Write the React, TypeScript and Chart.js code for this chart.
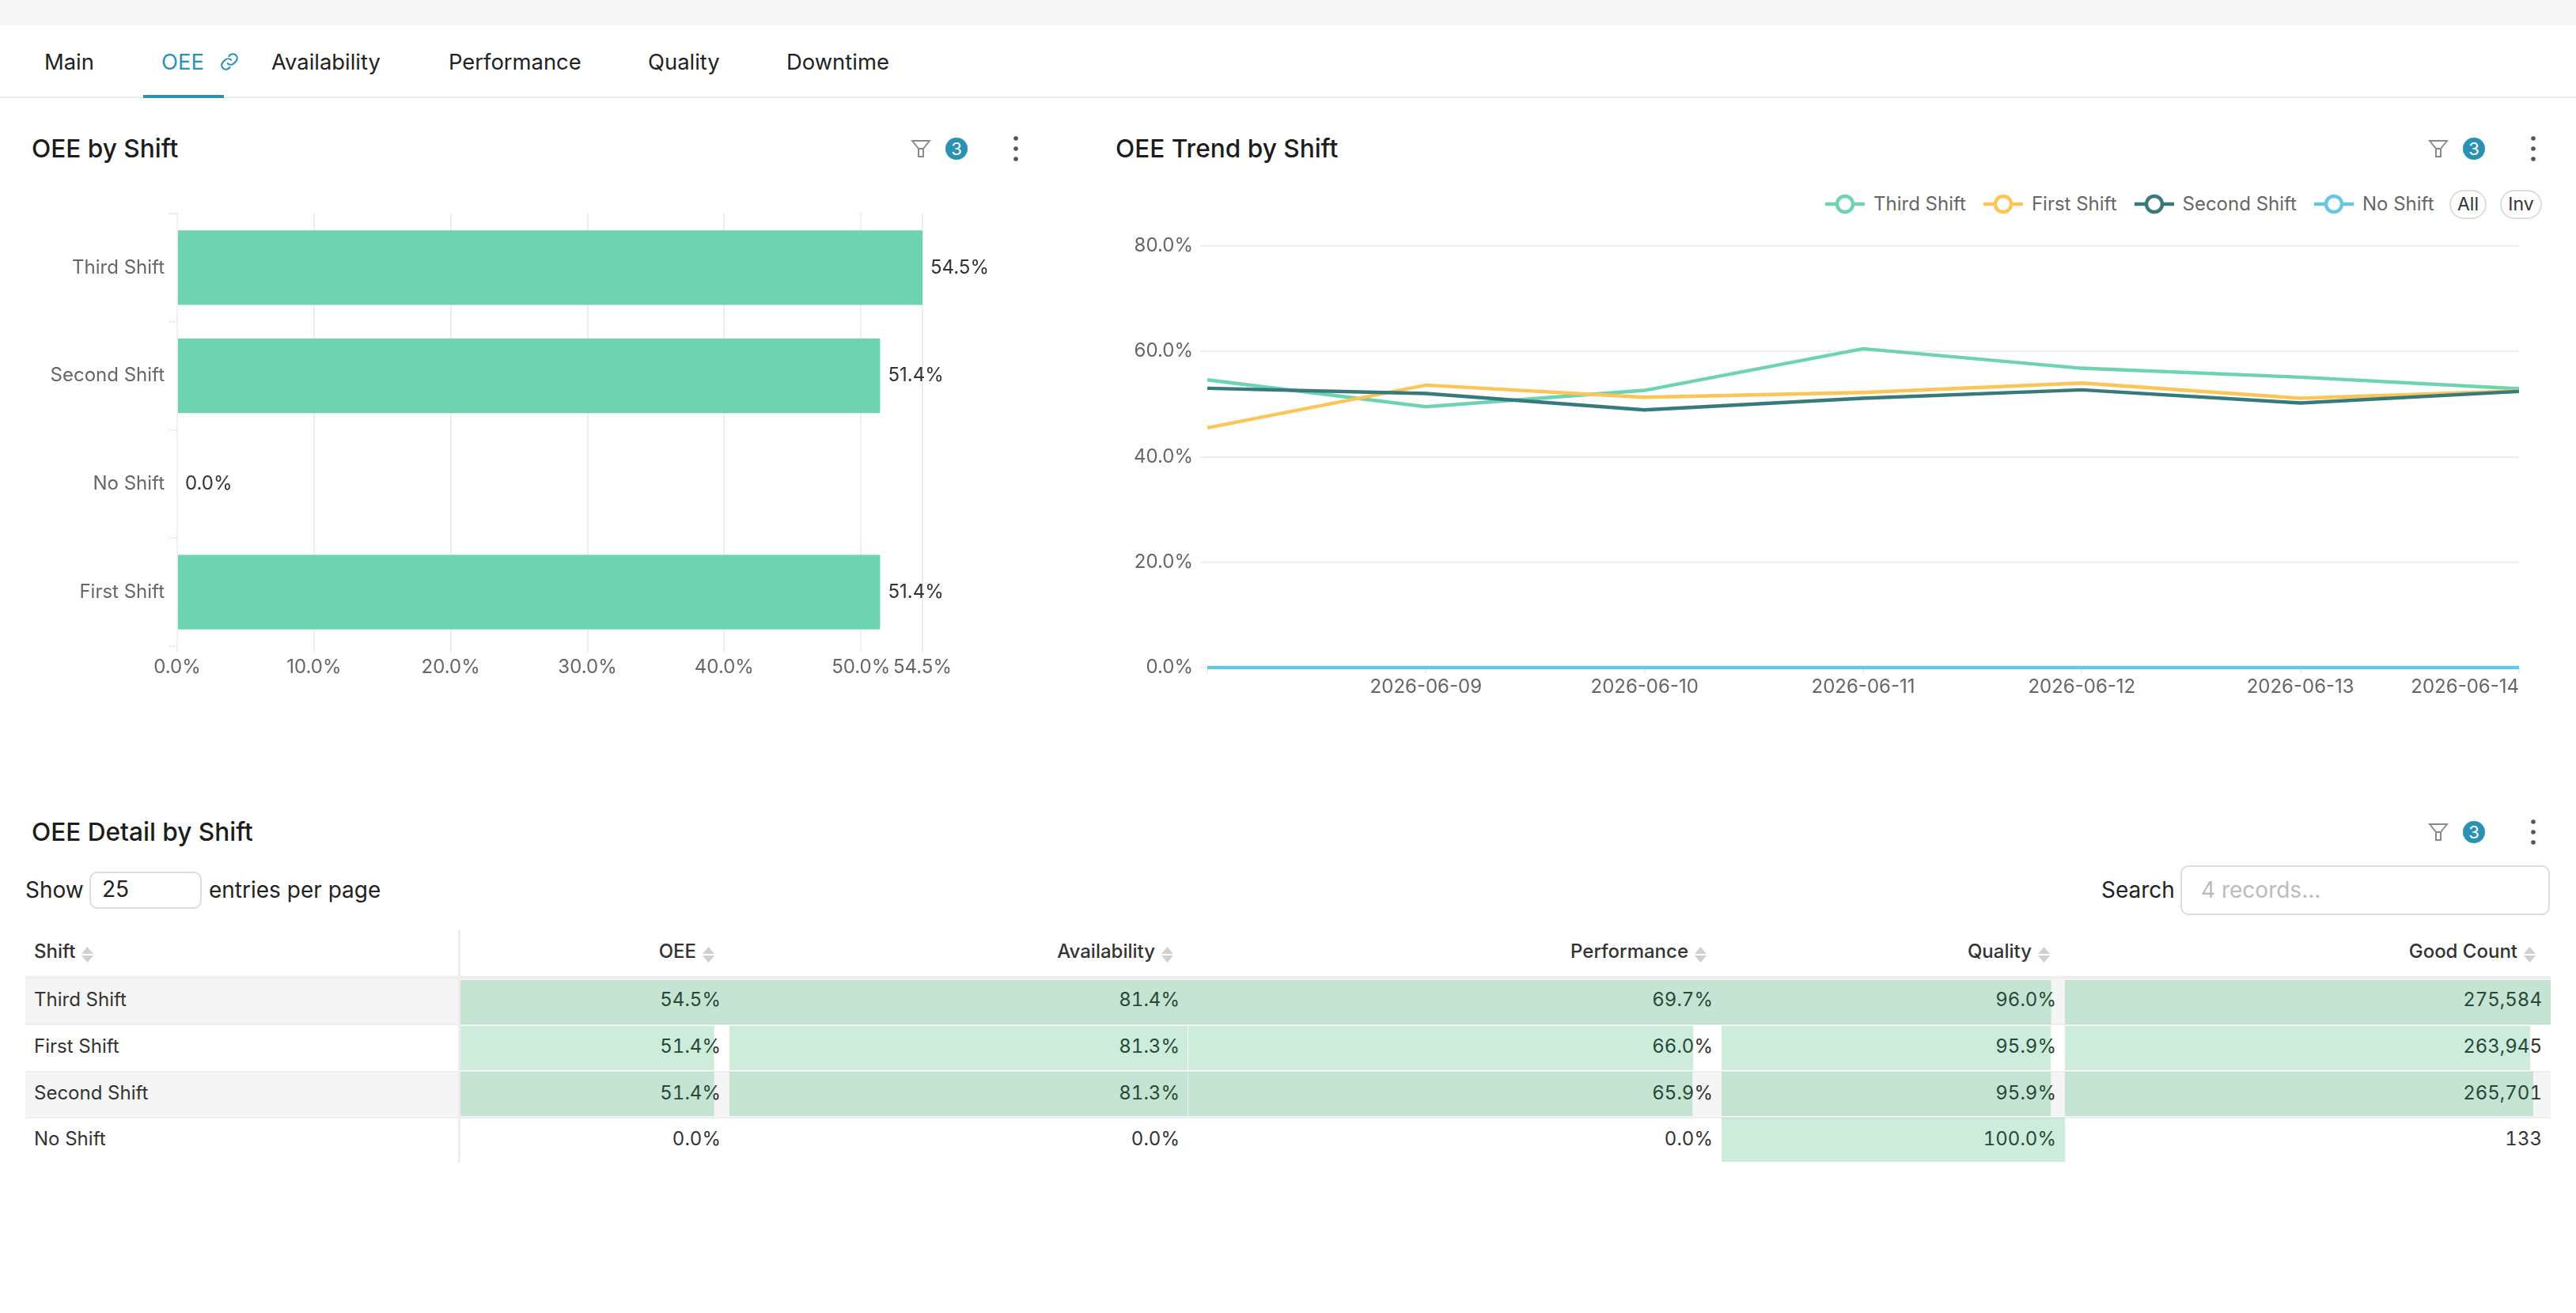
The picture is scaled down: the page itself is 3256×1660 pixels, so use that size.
import React, { useEffect, useRef } from 'react';
import { Chart, registerables } from 'chart.js';

Chart.register(...registerables);

const FONT = 'Inter, sans-serif';
const GRID = '#eeeeee';
const AXIS_TEXT = '#666666';
const ACCENT = '#2a93b5';

const tabs = ['Main', 'OEE', 'Availability', 'Performance', 'Quality', 'Downtime'];
const tabLefts = [56, 204, 343, 567, 819, 994];

// OEE by Shift
const barShifts = ['Third Shift', 'Second Shift', 'No Shift', 'First Shift'];
const barOee = [54.5, 51.4, 0, 51.4];
const barTicks = [0, 10, 20, 30, 40, 50, 54.5];

// OEE Trend by Shift
const trendDates = ['2026-06-08', '2026-06-09', '2026-06-10', '2026-06-11', '2026-06-12', '2026-06-13', '2026-06-14'];
const trendThird = [54.6, 49.5, 52.6, 60.5, 56.8, 55.1, 52.9];
const trendFirst = [45.5, 53.6, 51.3, 52.2, 54.0, 51.1, 52.5];
const trendSecond = [53.0, 52.0, 48.9, 51.1, 52.7, 50.2, 52.4];
const trendNone = [0, 0, 0, 0, 0, 0, 0];
const trendNames = ['Third Shift', 'First Shift', 'Second Shift', 'No Shift'];
const trendColors = ['#6dd3b1', '#fbc558', '#377a7b', '#66c8e0'];
const trendTicks = [0, 20, 40, 60, 80];

// OEE Detail by Shift
const tableShifts = ['Third Shift', 'First Shift', 'Second Shift', 'No Shift'];
const tableOee = [54.5, 51.4, 51.4, 0];
const tableAvailability = [81.4, 81.3, 81.3, 0];
const tablePerformance = [69.7, 66.0, 65.9, 0];
const tableQuality = [96.0, 95.9, 95.9, 100.0];
const tableGoodCount = [275584, 263945, 265701, 133];
const tableHeads = ['OEE', 'Availability', 'Performance', 'Quality', 'Good Count'];
const tableCols = [tableOee, tableAvailability, tablePerformance, tableQuality, tableGoodCount];
const colWidths = [340, 580, 674, 434, 614];
const rowHeights = [58, 60, 58, 56];

const pct = (v: number) => v.toFixed(1) + '%';

const barLabels = {
  id: 'barLabels',
  afterDatasetsDraw(chart: any) {
    const { ctx } = chart;
    ctx.save();
    ctx.font = `24px ${FONT}`;
    ctx.fillStyle = '#333333';
    ctx.textBaseline = 'middle';
    chart.getDatasetMeta(0).data.forEach((el: any, i: number) => {
      ctx.fillText(pct(barOee[i]), el.x + 10, el.y);
    });
    ctx.restore();
  },
};

function useChart(make: (canvas: HTMLCanvasElement) => Chart) {
  const ref = useRef<HTMLCanvasElement | null>(null);
  useEffect(() => {
    if (!ref.current) return;
    const chart = make(ref.current);
    return () => chart.destroy();
  }, []);
  return ref;
}

const BarPanel = () => {
  const ref = useChart(
    (canvas) =>
      new Chart(canvas, {
        type: 'bar',
        data: {
          labels: barShifts,
          datasets: [{ data: barOee, backgroundColor: '#6dd3b1', barPercentage: 0.69, categoryPercentage: 1 }],
        },
        plugins: [barLabels],
        options: {
          indexAxis: 'y',
          animation: false,
          responsive: false,
          devicePixelRatio: 1,
          layout: { padding: { top: 40, right: 174 } },
          plugins: { legend: { display: false }, tooltip: { enabled: false } },
          scales: {
            x: {
              min: 0,
              max: 54.5,
              afterBuildTicks: (s: any) => {
                s.ticks = barTicks.map((value) => ({ value }));
              },
              afterFit: (s: any) => {
                s.height = 63;
              },
              border: { display: false },
              grid: { color: GRID, lineWidth: 2, tickLength: 8, tickColor: GRID },
              ticks: {
                autoSkip: false,
                maxRotation: 0,
                padding: 4,
                color: AXIS_TEXT,
                font: { family: FONT, size: 24 },
                callback: (v: any) => pct(Number(v)),
              },
            },
            y: {
              afterFit: (s: any) => {
                s.width = 224;
              },
              border: { color: GRID, width: 2 },
              grid: { drawOnChartArea: false, color: GRID, lineWidth: 2, tickLength: 10 },
              ticks: { padding: 6, color: AXIS_TEXT, font: { family: FONT, size: 24 } },
            },
          },
        },
      } as any)
  );
  return <canvas ref={ref} width={1340} height={650} style={{ position: 'absolute', left: 0, top: 230 }} />;
};

const TrendPanel = () => {
  const series = [trendThird, trendFirst, trendSecond, trendNone];
  const ref = useChart(
    (canvas) =>
      new Chart(canvas, {
        type: 'line',
        data: {
          labels: trendDates,
          datasets: series.map((data, i) => ({
            label: trendNames[i],
            data,
            borderColor: trendColors[i],
            backgroundColor: trendColors[i],
            borderWidth: 4.4,
            pointRadius: 0,
            tension: 0,
            clip: 8,
            order: series.length - i,
          })),
        },
        options: {
          animation: false,
          responsive: false,
          devicePixelRatio: 1,
          layout: { padding: { top: 41, right: 72 } },
          plugins: { legend: { display: false }, tooltip: { enabled: false } },
          scales: {
            x: {
              afterFit: (s: any) => {
                s.height = 56;
              },
              border: { display: false },
              grid: { drawOnChartArea: false, color: GRID, lineWidth: 2, tickLength: 8 },
              ticks: {
                autoSkip: false,
                maxRotation: 0,
                align: 'inner',
                padding: 2,
                color: AXIS_TEXT,
                font: { family: FONT, size: 24 },
                callback: (_v: any, i: number) => (i === 0 ? '' : trendDates[i]),
              },
            },
            y: {
              min: 0,
              max: 80,
              afterBuildTicks: (s: any) => {
                s.ticks = trendTicks.map((value) => ({ value }));
              },
              afterFit: (s: any) => {
                s.width = 126;
              },
              border: { display: false },
              grid: { color: GRID, lineWidth: 2, tickLength: 9 },
              ticks: { padding: 9, color: AXIS_TEXT, font: { family: FONT, size: 24 }, callback: (v: any) => pct(Number(v)) },
            },
          },
        },
      } as any)
  );
  return <canvas ref={ref} width={1856} height={630} style={{ position: 'absolute', left: 1400, top: 270 }} />;
};

// translucent data bars that sit over the table cells, one x axis per column
const TableBars = () => {
  const ref = useChart((canvas) => {
    const scales: any = {
      y: { display: false, type: 'category' },
    };
    tableCols.forEach((values, i) => {
      scales[`c${i}`] = {
        type: 'linear',
        position: 'bottom',
        stack: 'cols',
        stackWeight: colWidths[i],
        min: 0,
        max: Math.max(...values),
        border: { display: false },
        grid: { display: false, drawTicks: false },
        ticks: { display: false },
      };
    });
    return new Chart(canvas, {
      type: 'bar',
      data: {
        labels: tableShifts,
        datasets: tableCols.map((values, i) => ({
          data: values,
          xAxisID: `c${i}`,
          yAxisID: 'y',
          grouped: false,
          backgroundColor: 'rgba(5, 160, 80, 0.2)',
          barPercentage: 0.966,
          categoryPercentage: 1,
        })),
      },
      options: {
        indexAxis: 'y',
        animation: false,
        responsive: false,
        devicePixelRatio: 1,
        plugins: { legend: { display: false }, tooltip: { enabled: false } },
        scales,
      },
    } as any);
  });
  return <canvas ref={ref} width={2642} height={232} style={{ position: 'absolute', left: 582, top: 1238, pointerEvents: 'none' }} />;
};

const abs = (left: number, top: number, extra: React.CSSProperties = {}): React.CSSProperties => ({
  position: 'absolute',
  left,
  top,
  whiteSpace: 'nowrap',
  ...extra,
});

const Title = ({ x, y, text }: { x: number; y: number; text: string }) => (
  <div style={abs(x, y - 20, { fontSize: 31.6, lineHeight: '40px', fontWeight: 500, color: '#1c1c1c' })}>{text}</div>
);

const PanelTools = ({ x, y }: { x: number; y: number }) => (
  <>
    <svg width="26" height="24" viewBox="0 0 26 24" style={abs(x, y - 12)}>
      <path d="M2 2 H24 L16 12 V22 H10 V12 Z M10 12 H16" fill="none" stroke="#8a8a8a" strokeWidth="2" />
    </svg>
    <div
      style={abs(x + 44, y - 14, {
        width: 28,
        height: 28,
        borderRadius: 14,
        background: ACCENT,
        color: '#fff',
        fontSize: 22,
        lineHeight: '28px',
        textAlign: 'center',
      })}
    >
      3
    </div>
    <svg width="8" height="32" viewBox="0 0 8 32" style={abs(x + 129, y - 16)}>
      <circle cx="4" cy="3" r="2.8" fill="#555" />
      <circle cx="4" cy="16" r="2.8" fill="#555" />
      <circle cx="4" cy="29" r="2.8" fill="#555" />
    </svg>
  </>
);

const SortArrows = () => (
  <svg width="15" height="20" viewBox="0 0 15 20" style={{ marginLeft: 8, flex: 'none', position: 'relative', top: 5 }}>
    <path d="M7.5 0 L15 9 H0 Z M7.5 20 L15 11 H0 Z" fill="#d0d0d0" />
  </svg>
);

const LegendIcon = ({ color }: { color: string }) => (
  <svg width="50" height="30" viewBox="0 0 50 30" style={{ flex: 'none' }}>
    <line x1="0" y1="15" x2="50" y2="15" stroke={color} strokeWidth="4.4" />
    <circle cx="25" cy="15" r="10" fill="#fff" stroke={color} strokeWidth="4.4" />
  </svg>
);

const pill: React.CSSProperties = {
  height: 37,
  boxSizing: 'border-box',
  border: '2px solid #dddddd',
  borderRadius: 19,
  fontSize: 23,
  lineHeight: '33px',
  textAlign: 'center',
  color: '#333',
};

const cellBase: React.CSSProperties = { boxSizing: 'border-box', verticalAlign: 'middle' };

const DetailTable = () => (
  <table
    style={{
      position: 'absolute',
      left: 32,
      top: 1176,
      width: 3192,
      tableLayout: 'fixed',
      borderCollapse: 'separate',
      borderSpacing: 0,
      fontSize: 24,
      color: '#333',
    }}
  >
    <colgroup>
      <col style={{ width: 550 }} />
      {colWidths.map((w, i) => (
        <col key={i} style={{ width: w }} />
      ))}
    </colgroup>
    <thead>
      <tr>
        <th
          style={{
            ...cellBase,
            height: 62,
            padding: '0 0 6px 11px',
            textAlign: 'left',
            fontWeight: 500,
            borderRight: `3px solid ${GRID}`,
            borderBottom: `4px solid ${GRID}`,
          }}
        >
          <div style={{ display: 'flex', alignItems: 'center' }}>
            Shift
            <SortArrows />
          </div>
        </th>
        {tableHeads.map((h) => (
          <th key={h} style={{ ...cellBase, height: 62, padding: '0 19px 6px 0', fontWeight: 500, borderBottom: `4px solid ${GRID}` }}>
            <div style={{ display: 'flex', alignItems: 'center', justifyContent: 'flex-end' }}>
              {h}
              <SortArrows />
            </div>
          </th>
        ))}
      </tr>
    </thead>
    <tbody>
      {tableShifts.map((name, r) => {
        const bottom = r < tableShifts.length - 1 ? `2px solid ${GRID}` : 'none';
        const bg = r % 2 === 0 ? '#f5f5f5' : '#ffffff';
        return (
          <tr key={name}>
            <td
              style={{
                ...cellBase,
                height: rowHeights[r],
                padding: '0 0 5px 11px',
                background: bg,
                borderRight: `3px solid ${GRID}`,
                borderBottom: bottom,
              }}
            >
              {name}
            </td>
            {tableCols.map((values, c) => (
              <td
                key={c}
                style={{
                  ...cellBase,
                  height: rowHeights[r],
                  padding: '0 11px 5px 0',
                  textAlign: 'right',
                  fontVariantNumeric: 'tabular-nums',
                  background: bg,
                  borderBottom: bottom,
                }}
              >
                {c === 4 ? values[r].toLocaleString('en-US') : pct(values[r])}
              </td>
            ))}
          </tr>
        );
      })}
    </tbody>
  </table>
);

const inputBox: React.CSSProperties = {
  boxSizing: 'border-box',
  border: '2px solid #dddddd',
  borderRadius: 10,
  fontSize: 28,
};

export default function App() {
  return (
    <div
      style={{
        position: 'absolute',
        left: 0,
        top: 0,
        width: 3256,
        height: 1660,
        overflow: 'hidden',
        background: '#fff',
        fontFamily: FONT,
        color: '#222',
      }}
    >
      <style>{'body{margin:0}'}</style>
      <div style={abs(0, 0, { width: 3256, height: 32, background: '#f6f6f6' })} />
      <div style={abs(0, 122, { width: 3256, height: 2, background: GRID })} />
      <div style={abs(181, 120, { width: 102, height: 4, background: ACCENT })} />
      {tabs.map((t, i) => (
        <div key={t} style={abs(tabLefts[i], 60, { fontSize: 27.4, lineHeight: '36px', color: t === 'OEE' ? ACCENT : '#222' })}>
          {t}
        </div>
      ))}
      <svg width="26" height="26" viewBox="0 0 24 24" style={abs(277, 65)}>
        <g fill="none" stroke={ACCENT} strokeWidth="2" strokeLinecap="round">
          <path d="M10 14 a5 5 0 0 0 7 0 l3-3 a5 5 0 0 0-7-7 l-1.5 1.5" />
          <path d="M14 10 a5 5 0 0 0-7 0 l-3 3 a5 5 0 0 0 7 7 l1.5-1.5" />
        </g>
      </svg>

      <Title x={40} y={188} text="OEE by Shift" />
      <PanelTools x={1151} y={188} />
      <BarPanel />

      <Title x={1410} y={188} text="OEE Trend by Shift" />
      <PanelTools x={3069} y={188} />
      <div style={abs(2307, 243, { display: 'flex', alignItems: 'center', fontSize: 24, lineHeight: '30px', color: AXIS_TEXT })}>
        {trendNames.map((n, i) => (
          <div key={n} style={{ display: 'flex', alignItems: 'center', marginRight: 22 }}>
            <LegendIcon color={trendColors[i]} />
            <span style={{ marginLeft: 11 }}>{n}</span>
          </div>
        ))}
      </div>
      <div style={abs(3096, 240, { ...pill, width: 47 })}>All</div>
      <div style={abs(3160, 240, { ...pill, width: 53 })}>Inv</div>
      <TrendPanel />

      <Title x={40} y={1052} text="OEE Detail by Shift" />
      <PanelTools x={3069} y={1052} />
      <div style={abs(32, 1107, { fontSize: 28, lineHeight: '36px' })}>Show</div>
      <div style={abs(113, 1102, { ...inputBox, width: 142, height: 47, lineHeight: '41px', paddingLeft: 14 })}>25</div>
      <div style={abs(264, 1107, { fontSize: 28, lineHeight: '36px' })}>entries per page</div>
      <div style={abs(2656, 1107, { fontSize: 28, lineHeight: '36px' })}>Search</div>
      <div style={abs(2756, 1094, { ...inputBox, width: 467, height: 63, lineHeight: '59px', paddingLeft: 24, color: '#bbbbbb' })}>
        4 records...
      </div>

      <DetailTable />
      <TableBars />
    </div>
  );
}
